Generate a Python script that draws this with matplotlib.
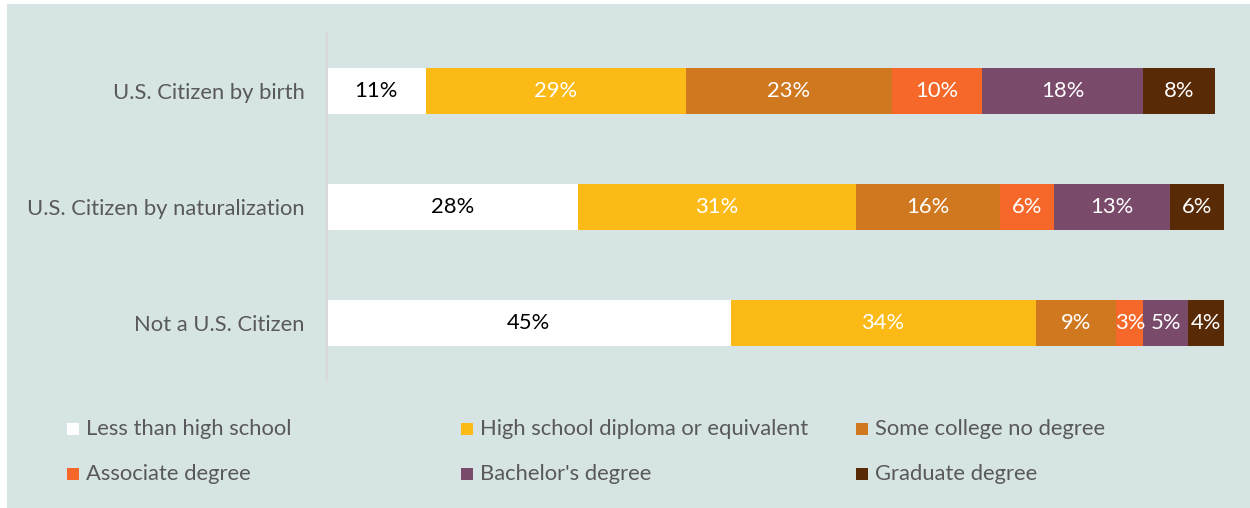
import matplotlib
matplotlib.use("Agg")
import matplotlib.pyplot as plt
from matplotlib.patches import Rectangle

categories = ["U.S. Citizen by birth", "U.S. Citizen by naturalization", "Not a U.S. Citizen"]
series_names = ["Less than high school", "High school diploma or equivalent", "Some college no degree",
                "Associate degree", "Bachelor's degree", "Graduate degree"]
values = [
    [11, 28, 45],
    [29, 31, 34],
    [23, 16, 9],
    [10, 6, 3],
    [18, 13, 5],
    [8, 6, 4],
]
colors = ["#FFFFFF", "#FBBA16", "#D07820", "#F6682A", "#7A4A6A", "#582A05"]
label_colors = ["#000000", "#FFFFFF", "#FFFFFF", "#FFFFFF", "#FFFFFF", "#FFFFFF"]

BG = "#D6E4E3"
FONT = ["Lato", "DejaVu Sans"]
plt.rcParams['font.family'] = FONT
FS = 15.8

fig = plt.figure(figsize=(12.5, 5.08), dpi=100)
fig.patch.set_facecolor("white")
fig.patches.append(Rectangle((7/1250, 0), 1 - 7/1250, 1 - 4/508, transform=fig.transFigure,
                             facecolor=BG, edgecolor="none", zorder=-10))

ax = fig.add_axes([327/1250, 1 - 381/508, 897/1250, (381 - 33)/508])
ax.set_facecolor("none")
ypos = list(range(len(categories)))
lefts = [0] * len(categories)
for s, name in enumerate(series_names):
    vals = values[s]
    ax.barh(ypos, vals, left=lefts, height=0.405, color=colors[s], edgecolor="none", zorder=2)
    for i, v in enumerate(vals):
        ax.text(lefts[i] + v / 2, ypos[i], f"{v}%", ha="center", va="center",
                fontsize=FS, color=label_colors[s], zorder=3)
    lefts = [l + v for l, v in zip(lefts, vals)]

ax.set_xlim(0, 100)
ax.set_ylim(len(categories) - 0.5, -0.5)
ax.set_yticks(ypos)
ax.set_yticklabels(categories, fontsize=FS, color="#595959")
ax.tick_params(axis="y", length=0, pad=16)
ax.set_xticks([])
for sp in ["top", "right", "bottom"]:
    ax.spines[sp].set_visible(False)
ax.spines["left"].set_color("#D9D9D9")
ax.spines["left"].set_linewidth(1.5)

# legend
col_x = [67, 461, 856]
row_y = [429, 474]
for i, name in enumerate(series_names):
    x = col_x[i % 3]
    y = row_y[i // 3]
    fig.patches.append(Rectangle((x / 1250, 1 - (y + 6) / 508), 12 / 1250, 12 / 508,
                                 transform=fig.transFigure, facecolor=colors[i],
                                 edgecolor="none", zorder=3))
    fig.text((x + 19) / 1250, 1 - y / 508, name, ha="left", va="center",
             fontsize=FS, color="#595959")

fig.savefig("out.png", dpi=100, facecolor=fig.get_facecolor())
